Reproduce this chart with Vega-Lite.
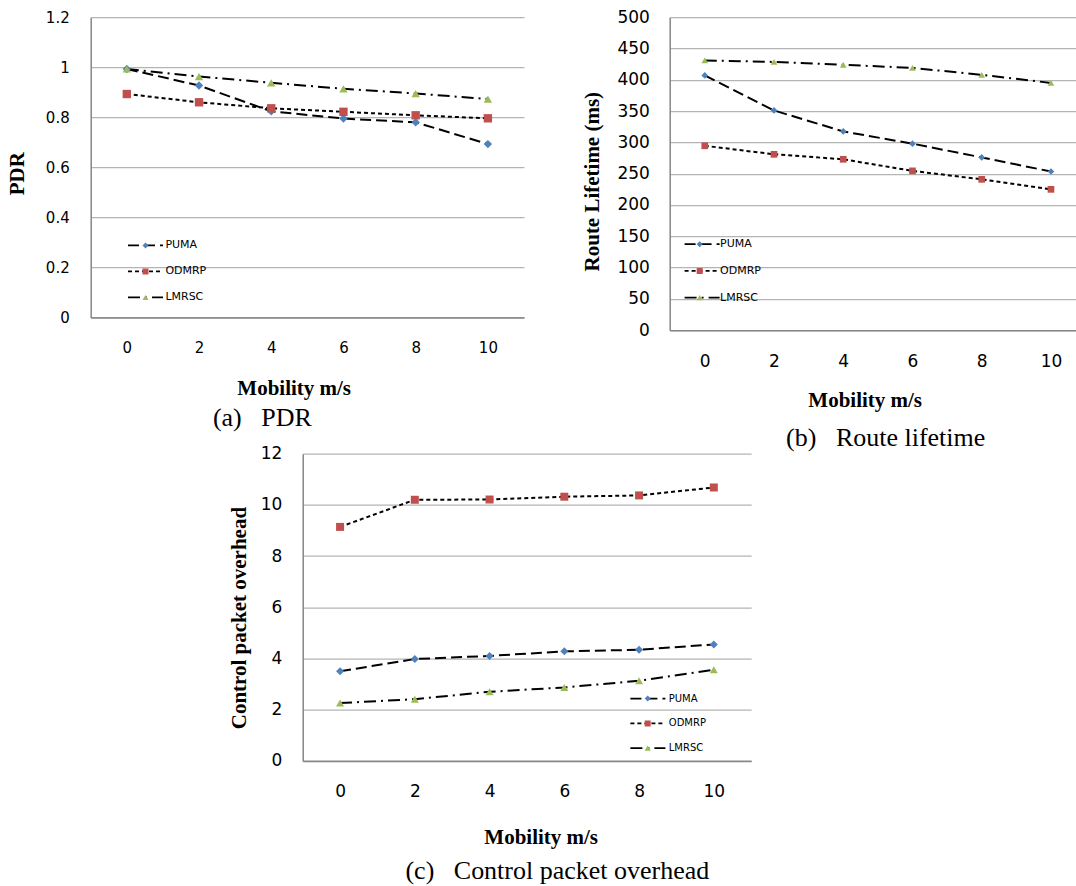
{
  "$schema": "https://vega.github.io/schema/vega-lite/v6.json",
  "background": "white",
  "padding": {"left": 6.7, "top": 8.2, "right": 0, "bottom": 0},
  "datasets": {
    "pdr": [
      {"speed": 0, "series": "PUMA", "value": 0.993},
      {"speed": 2, "series": "PUMA", "value": 0.927},
      {"speed": 4, "series": "PUMA", "value": 0.824},
      {"speed": 6, "series": "PUMA", "value": 0.795},
      {"speed": 8, "series": "PUMA", "value": 0.780},
      {"speed": 10, "series": "PUMA", "value": 0.693},
      {"speed": 0, "series": "ODMRP", "value": 0.893},
      {"speed": 2, "series": "ODMRP", "value": 0.860},
      {"speed": 4, "series": "ODMRP", "value": 0.836},
      {"speed": 6, "series": "ODMRP", "value": 0.822},
      {"speed": 8, "series": "ODMRP", "value": 0.808},
      {"speed": 10, "series": "ODMRP", "value": 0.796},
      {"speed": 0, "series": "LMRSC", "value": 0.993},
      {"speed": 2, "series": "LMRSC", "value": 0.963},
      {"speed": 4, "series": "LMRSC", "value": 0.938},
      {"speed": 6, "series": "LMRSC", "value": 0.914},
      {"speed": 8, "series": "LMRSC", "value": 0.895},
      {"speed": 10, "series": "LMRSC", "value": 0.873}
    ],
    "life": [
      {"speed": 0, "series": "PUMA", "value": 407},
      {"speed": 2, "series": "PUMA", "value": 351},
      {"speed": 4, "series": "PUMA", "value": 317.5},
      {"speed": 6, "series": "PUMA", "value": 298},
      {"speed": 8, "series": "PUMA", "value": 276},
      {"speed": 10, "series": "PUMA", "value": 253.5},
      {"speed": 0, "series": "ODMRP", "value": 294.6},
      {"speed": 2, "series": "ODMRP", "value": 281},
      {"speed": 4, "series": "ODMRP", "value": 273},
      {"speed": 6, "series": "ODMRP", "value": 254.5},
      {"speed": 8, "series": "ODMRP", "value": 241},
      {"speed": 10, "series": "ODMRP", "value": 225},
      {"speed": 0, "series": "LMRSC", "value": 431},
      {"speed": 2, "series": "LMRSC", "value": 428.5},
      {"speed": 4, "series": "LMRSC", "value": 424},
      {"speed": 6, "series": "LMRSC", "value": 419},
      {"speed": 8, "series": "LMRSC", "value": 408},
      {"speed": 10, "series": "LMRSC", "value": 395}
    ],
    "ctrl": [
      {"speed": 0, "series": "PUMA", "value": 3.50},
      {"speed": 2, "series": "PUMA", "value": 3.98},
      {"speed": 4, "series": "PUMA", "value": 4.10},
      {"speed": 6, "series": "PUMA", "value": 4.28},
      {"speed": 8, "series": "PUMA", "value": 4.34},
      {"speed": 10, "series": "PUMA", "value": 4.55},
      {"speed": 0, "series": "ODMRP", "value": 9.14},
      {"speed": 2, "series": "ODMRP", "value": 10.20},
      {"speed": 4, "series": "ODMRP", "value": 10.21},
      {"speed": 6, "series": "ODMRP", "value": 10.32},
      {"speed": 8, "series": "ODMRP", "value": 10.37},
      {"speed": 10, "series": "ODMRP", "value": 10.68},
      {"speed": 0, "series": "LMRSC", "value": 2.26},
      {"speed": 2, "series": "LMRSC", "value": 2.41},
      {"speed": 4, "series": "LMRSC", "value": 2.70},
      {"speed": 6, "series": "LMRSC", "value": 2.87},
      {"speed": 8, "series": "LMRSC", "value": 3.13},
      {"speed": 10, "series": "LMRSC", "value": 3.56}
    ]
  },
  "config": {
    "view": {"stroke": null},
    "font": "DejaVu Sans",
    "axis": {
      "ticks": false,
      "domainColor": "#868686",
      "domainWidth": 1.5,
      "gridColor": "#b4b4b4",
      "gridWidth": 1.2,
      "labelFont": "DejaVu Sans",
      "labelColor": "#000000",
      "titleFont": "Liberation Serif",
      "titleFontWeight": "bold",
      "titleFontSize": 21,
      "titleColor": "#000000",
      "titleBaseline": "middle"
    },
    "axisX": {"grid": false, "labelAngle": 0, "labelPadding": 23},
    "axisY": {"grid": true, "labelPadding": 21},
    "legend": {"padding": 0, "labelFont": "DejaVu Sans", "labelColor": "#000000", "titlePadding": 0}
  },
  "spacing": -6.5,
  "resolve": {
    "scale": {"color": "independent", "shape": "independent", "strokeDash": "independent"},
    "legend": {"color": "independent", "shape": "independent", "strokeDash": "independent"}
  },
  "vconcat": [
    {
      "spacing": 56,
      "resolve": {
        "scale": {"color": "independent", "shape": "independent", "strokeDash": "independent"},
        "legend": {"color": "independent", "shape": "independent", "strokeDash": "independent"}
      },
      "hconcat": [
        {
          "width": 433.3,
          "height": 300.3,
          "data": {"name": "pdr"},
          "title": {"text": "(a)\u00a0\u00a0\u00a0PDR", "orient": "bottom", "anchor": "middle", "frame": "group", "offset": 20, "dx": -45, "baseline": "middle", "font": "Liberation Serif", "fontSize": 26, "fontWeight": "normal", "color": "#000000"},
          "encoding": {
            "x": {"field": "speed", "type": "ordinal", "scale": {"type": "point", "padding": 0.5}, "axis": {"title": "Mobility m/s", "labelFontSize": 15, "titleX": 203, "titleY": 71}},
            "y": {"field": "value", "type": "quantitative", "scale": {"domain": [0, 1.2]}, "axis": {"title": "PDR", "values": [0, 0.2, 0.4, 0.6, 0.8, 1, 1.2], "format": "~g", "labelFontSize": 15, "labelPadding": 21.5, "titleX": -72.8, "titleY": 156}}
          },
          "layer": [
            {
              "mark": {"type": "line", "color": "black", "strokeWidth": 2},
              "encoding": {
                "strokeDash": {"field": "series", "type": "nominal", "sort": ["PUMA", "ODMRP", "LMRSC"], "scale": {"range": [[11, 5], [4, 3], [12, 5, 2, 5]]},
                  "legend": {"orient": "none", "legendX": 36.3, "legendY": 222.8, "title": null, "symbolType": "stroke", "symbolSize": 1225, "symbolStrokeWidth": 1.75, "symbolStrokeColor": "black", "clipHeight": 11, "labelFontSize": 11, "labelOffset": 1.4, "rowPadding": 14}}
              }
            },
            {
              "mark": {"type": "point", "filled": true, "opacity": 1, "size": 70},
              "encoding": {
                "shape": {"field": "series", "type": "nominal", "scale": {"domain": ["PUMA", "ODMRP", "LMRSC"], "range": ["diamond", "square", "triangle-up"]},
                  "legend": {"orient": "none", "legendX": 49.3, "legendY": 222.8, "title": null, "symbolSize": 36, "clipHeight": 11, "labelFontSize": 11, "labelExpr": "' '", "rowPadding": 14}},
                "color": {"field": "series", "type": "nominal", "scale": {"domain": ["PUMA", "ODMRP", "LMRSC"], "range": ["#4F81BD", "#C0504D", "#9BBB59"]},
                  "legend": {"orient": "none", "legendX": 49.3, "legendY": 222.8, "title": null, "symbolSize": 36, "clipHeight": 11, "labelFontSize": 11, "labelExpr": "' '", "rowPadding": 14}}
              }
            }
          ]
        },
        {
          "width": 407,
          "height": 313,
          "data": {"name": "life"},
          "title": {"text": "(b)\u00a0\u00a0\u00a0Route lifetime", "orient": "bottom", "anchor": "middle", "frame": "group", "offset": 27, "dx": 12.5, "baseline": "middle", "font": "Liberation Serif", "fontSize": 26, "fontWeight": "normal", "color": "#000000"},
          "encoding": {
            "x": {"field": "speed", "type": "ordinal", "scale": {"type": "point", "padding": 0.439, "align": 0.577}, "axis": {"title": "Mobility m/s", "labelFontSize": 17, "titleX": 195, "titleY": 70.7}},
            "y": {"field": "value", "type": "quantitative", "scale": {"domain": [0, 500]}, "axis": {"title": "Route Lifetime (ms)", "values": [0, 50, 100, 150, 200, 250, 300, 350, 400, 450, 500], "labelFontSize": 17, "labelPadding": 20.3, "titleX": -77.6, "titleY": 164}}
          },
          "layer": [
            {
              "mark": {"type": "line", "color": "black", "strokeWidth": 2},
              "encoding": {
                "strokeDash": {"field": "series", "type": "nominal", "sort": ["PUMA", "ODMRP", "LMRSC"], "scale": {"range": [[11, 5], [4, 3], [12, 5, 2, 5]]},
                  "legend": {"orient": "none", "legendX": 13.9, "legendY": 221.5, "title": null, "symbolType": "stroke", "symbolSize": 1225, "symbolStrokeWidth": 1.75, "symbolStrokeColor": "black", "clipHeight": 11, "labelFontSize": 11, "labelOffset": -0.5, "rowPadding": 14.7}}
              }
            },
            {
              "mark": {"type": "point", "filled": true, "opacity": 1, "size": 45},
              "encoding": {
                "shape": {"field": "series", "type": "nominal", "scale": {"domain": ["PUMA", "ODMRP", "LMRSC"], "range": ["diamond", "square", "triangle-up"]},
                  "legend": {"orient": "none", "legendX": 24.5, "legendY": 221.5, "title": null, "symbolSize": 36, "clipHeight": 11, "labelFontSize": 11, "labelExpr": "' '", "rowPadding": 14.7}},
                "color": {"field": "series", "type": "nominal", "scale": {"domain": ["PUMA", "ODMRP", "LMRSC"], "range": ["#4F81BD", "#C0504D", "#9BBB59"]},
                  "legend": {"orient": "none", "legendX": 24.5, "legendY": 221.5, "title": null, "symbolSize": 36, "clipHeight": 11, "labelFontSize": 11, "labelExpr": "' '", "rowPadding": 14.7}}
              }
            }
          ]
        }
      ]
    },
    {
      "spacing": 0,
      "resolve": {
        "scale": {"color": "independent", "shape": "independent", "strokeDash": "independent"},
        "legend": {"color": "independent", "shape": "independent", "strokeDash": "independent"}
      },
      "hconcat": [
        {
          "width": 138,
          "height": 10,
          "data": {"values": [{"k": 0}]},
          "mark": {"type": "point", "opacity": 0},
          "encoding": {}
        },
        {
          "width": 448.5,
          "height": 307.2,
          "data": {"name": "ctrl"},
          "title": {"text": "(c)\u00a0\u00a0\u00a0Control packet overhead", "orient": "bottom", "anchor": "middle", "frame": "group", "offset": 23.5, "dx": 30.4, "baseline": "middle", "font": "Liberation Serif", "fontSize": 26, "fontWeight": "normal", "color": "#000000"},
          "encoding": {
            "x": {"field": "speed", "type": "ordinal", "scale": {"type": "point", "padding": 0.5}, "axis": {"title": "Mobility m/s", "labelFontSize": 17, "titleX": 238, "titleY": 77}},
            "y": {"field": "value", "type": "quantitative", "scale": {"domain": [0, 12]}, "axis": {"title": "Control packet overhead", "values": [0, 2, 4, 6, 8, 10, 12], "labelFontSize": 17, "labelPadding": 20.8, "titleX": -63, "titleY": 163.9}}
          },
          "layer": [
            {
              "mark": {"type": "line", "color": "black", "strokeWidth": 2},
              "encoding": {
                "strokeDash": {"field": "series", "type": "nominal", "sort": ["PUMA", "ODMRP", "LMRSC"], "scale": {"range": [[11, 5], [4, 3], [12, 5, 2, 5]]},
                  "legend": {"orient": "none", "legendX": 326.7, "legendY": 239.9, "title": null, "symbolType": "stroke", "symbolSize": 1225, "symbolStrokeWidth": 1.75, "symbolStrokeColor": "black", "clipHeight": 10, "labelFontSize": 10, "labelOffset": 2.4, "rowPadding": 14.8}}
              }
            },
            {
              "mark": {"type": "point", "filled": true, "opacity": 1, "size": 64},
              "encoding": {
                "shape": {"field": "series", "type": "nominal", "scale": {"domain": ["PUMA", "ODMRP", "LMRSC"], "range": ["diamond", "square", "triangle-up"]},
                  "legend": {"orient": "none", "legendX": 340, "legendY": 239.9, "title": null, "symbolSize": 36, "clipHeight": 10, "labelFontSize": 10, "labelExpr": "' '", "rowPadding": 14.8}},
                "color": {"field": "series", "type": "nominal", "scale": {"domain": ["PUMA", "ODMRP", "LMRSC"], "range": ["#4F81BD", "#C0504D", "#9BBB59"]},
                  "legend": {"orient": "none", "legendX": 340, "legendY": 239.9, "title": null, "symbolSize": 36, "clipHeight": 10, "labelFontSize": 10, "labelExpr": "' '", "rowPadding": 14.8}}
              }
            }
          ]
        }
      ]
    }
  ]
}
